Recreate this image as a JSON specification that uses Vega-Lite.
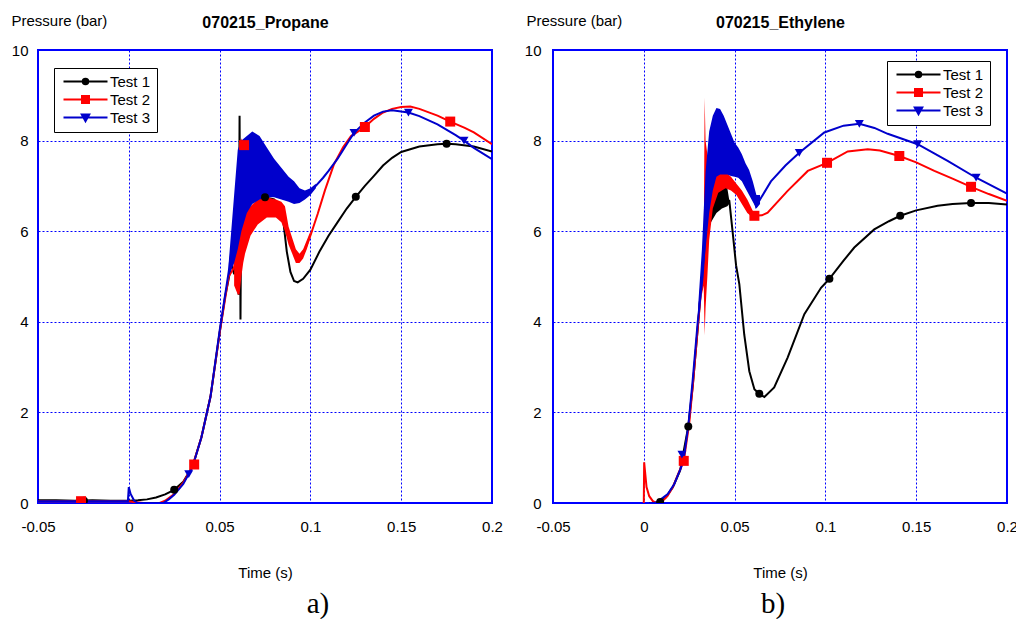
{
  "$schema": "https://vega.github.io/schema/vega-lite/v6.json",
  "background": "white",
  "padding": {"left": 10, "top": 12, "right": 5, "bottom": 5},
  "config": {
    "font": "Liberation Sans",
    "view": {"stroke": "#0000ff", "strokeWidth": 2},
    "axis": {
      "labelFont": "Liberation Sans", "labelFontSize": 15, "labelColor": "#000000",
      "titleFont": "Liberation Sans", "titleFontSize": 15, "titleFontWeight": "normal", "titleColor": "#000000",
      "ticks": false, "tickSize": 0, "domain": false, "labelFlush": false,
      "gridColor": "#0000ff", "gridDash": [2, 2], "gridWidth": 1, "gridOpacity": 1
    }
  },
  "datasets": {
    "lines_a": [
      {"s":"Test 1","t":-0.05,"p":0.06},{"s":"Test 1","t":-0.04,"p":0.06},{"s":"Test 1","t":-0.03,"p":0.05},{"s":"Test 1","t":-0.02,"p":0.06},{"s":"Test 1","t":-0.01,"p":0.05},{"s":"Test 1","t":0,"p":0.05},{"s":"Test 1","t":0.005,"p":0.06},{"s":"Test 1","t":0.01,"p":0.08},{"s":"Test 1","t":0.015,"p":0.12},{"s":"Test 1","t":0.02,"p":0.19},{"s":"Test 1","t":0.025,"p":0.29},{"s":"Test 1","t":0.03,"p":0.47},{"s":"Test 1","t":0.035,"p":0.8},{"s":"Test 1","t":0.04,"p":1.45},{"s":"Test 1","t":0.045,"p":2.35},{"s":"Test 1","t":0.05,"p":3.75},{"s":"Test 1","t":0.053,"p":4.55},{"s":"Test 1","t":0.055,"p":4.95},{"s":"Test 1","t":0.0565,"p":5.3},{"s":"Test 1","t":0.058,"p":5.05},{"s":"Test 1","t":0.0595,"p":5.6},{"s":"Test 1","t":0.0605,"p":4.6},{"s":"Test 1","t":0.061,"p":8.55},{"s":"Test 1","t":0.0615,"p":4.05},{"s":"Test 1","t":0.062,"p":7.3},{"s":"Test 1","t":0.0625,"p":5.4},{"s":"Test 1","t":0.063,"p":6.1},{"s":"Test 1","t":0.066,"p":6.4},{"s":"Test 1","t":0.07,"p":6.6},{"s":"Test 1","t":0.075,"p":6.75},{"s":"Test 1","t":0.08,"p":6.7},{"s":"Test 1","t":0.083,"p":6.55},{"s":"Test 1","t":0.085,"p":6.25},{"s":"Test 1","t":0.087,"p":5.55},{"s":"Test 1","t":0.089,"p":5.1},{"s":"Test 1","t":0.091,"p":4.9},{"s":"Test 1","t":0.093,"p":4.87},{"s":"Test 1","t":0.096,"p":4.95},{"s":"Test 1","t":0.1,"p":5.15},{"s":"Test 1","t":0.105,"p":5.55},{"s":"Test 1","t":0.11,"p":5.9},{"s":"Test 1","t":0.115,"p":6.2},{"s":"Test 1","t":0.12,"p":6.5},{"s":"Test 1","t":0.125,"p":6.76},{"s":"Test 1","t":0.13,"p":7.0},{"s":"Test 1","t":0.135,"p":7.22},{"s":"Test 1","t":0.14,"p":7.45},{"s":"Test 1","t":0.145,"p":7.62},{"s":"Test 1","t":0.15,"p":7.75},{"s":"Test 1","t":0.16,"p":7.87},{"s":"Test 1","t":0.17,"p":7.92},{"s":"Test 1","t":0.175,"p":7.93},{"s":"Test 1","t":0.18,"p":7.92},{"s":"Test 1","t":0.19,"p":7.87},{"s":"Test 1","t":0.2,"p":7.76},
      {"s":"Test 2","t":-0.05,"p":0.04},{"s":"Test 2","t":-0.04,"p":0.04},{"s":"Test 2","t":-0.03,"p":0.04},{"s":"Test 2","t":-0.02,"p":0.04},{"s":"Test 2","t":-0.01,"p":0.04},{"s":"Test 2","t":0,"p":0.04},{"s":"Test 2","t":0.003,"p":0.02},{"s":"Test 2","t":0.008,"p":0.0},{"s":"Test 2","t":0.017,"p":0.0},{"s":"Test 2","t":0.02,"p":0.05},{"s":"Test 2","t":0.025,"p":0.2},{"s":"Test 2","t":0.03,"p":0.45},{"s":"Test 2","t":0.035,"p":0.8},{"s":"Test 2","t":0.04,"p":1.45},{"s":"Test 2","t":0.045,"p":2.35},{"s":"Test 2","t":0.05,"p":3.75},{"s":"Test 2","t":0.055,"p":5.0},{"s":"Test 2","t":0.058,"p":5.2},{"s":"Test 2","t":0.06,"p":5.8},{"s":"Test 2","t":0.062,"p":6.4},{"s":"Test 2","t":0.064,"p":6.0},{"s":"Test 2","t":0.067,"p":6.2},{"s":"Test 2","t":0.071,"p":6.4},{"s":"Test 2","t":0.076,"p":6.5},{"s":"Test 2","t":0.081,"p":6.5},{"s":"Test 2","t":0.084,"p":6.42},{"s":"Test 2","t":0.086,"p":6.28},{"s":"Test 2","t":0.088,"p":5.9},{"s":"Test 2","t":0.09,"p":5.65},{"s":"Test 2","t":0.0935,"p":5.4},{"s":"Test 2","t":0.096,"p":5.5},{"s":"Test 2","t":0.1,"p":5.9},{"s":"Test 2","t":0.104,"p":6.38},{"s":"Test 2","t":0.108,"p":6.9},{"s":"Test 2","t":0.113,"p":7.48},{"s":"Test 2","t":0.118,"p":7.85},{"s":"Test 2","t":0.1224,"p":8.1},{"s":"Test 2","t":0.13,"p":8.3},{"s":"Test 2","t":0.135,"p":8.48},{"s":"Test 2","t":0.14,"p":8.62},{"s":"Test 2","t":0.145,"p":8.7},{"s":"Test 2","t":0.15,"p":8.74},{"s":"Test 2","t":0.155,"p":8.75},{"s":"Test 2","t":0.16,"p":8.7},{"s":"Test 2","t":0.17,"p":8.55},{"s":"Test 2","t":0.177,"p":8.42},{"s":"Test 2","t":0.185,"p":8.28},{"s":"Test 2","t":0.19,"p":8.18},{"s":"Test 2","t":0.2,"p":7.92},
      {"s":"Test 3","t":-0.05,"p":0.04},{"s":"Test 3","t":-0.03,"p":0.04},{"s":"Test 3","t":-0.01,"p":0.04},{"s":"Test 3","t":-0.0005,"p":0.04},{"s":"Test 3","t":0,"p":0.35},{"s":"Test 3","t":0.001,"p":0.2},{"s":"Test 3","t":0.003,"p":0.05},{"s":"Test 3","t":0.005,"p":0.0},{"s":"Test 3","t":0.019,"p":0.0},{"s":"Test 3","t":0.022,"p":0.08},{"s":"Test 3","t":0.025,"p":0.18},{"s":"Test 3","t":0.03,"p":0.42},{"s":"Test 3","t":0.033,"p":0.64},{"s":"Test 3","t":0.035,"p":0.78},{"s":"Test 3","t":0.04,"p":1.45},{"s":"Test 3","t":0.045,"p":2.35},{"s":"Test 3","t":0.05,"p":3.8},{"s":"Test 3","t":0.055,"p":5.1},{"s":"Test 3","t":0.058,"p":6.0},{"s":"Test 3","t":0.06,"p":6.7},{"s":"Test 3","t":0.062,"p":7.0},{"s":"Test 3","t":0.065,"p":7.25},{"s":"Test 3","t":0.068,"p":7.4},{"s":"Test 3","t":0.072,"p":7.4},{"s":"Test 3","t":0.076,"p":7.3},{"s":"Test 3","t":0.08,"p":7.15},{"s":"Test 3","t":0.084,"p":7.05},{"s":"Test 3","t":0.088,"p":6.9},{"s":"Test 3","t":0.091,"p":6.85},{"s":"Test 3","t":0.094,"p":6.8},{"s":"Test 3","t":0.097,"p":6.8},{"s":"Test 3","t":0.1,"p":6.88},{"s":"Test 3","t":0.103,"p":7.0},{"s":"Test 3","t":0.107,"p":7.18},{"s":"Test 3","t":0.11,"p":7.33},{"s":"Test 3","t":0.115,"p":7.6},{"s":"Test 3","t":0.12,"p":7.92},{"s":"Test 3","t":0.124,"p":8.17},{"s":"Test 3","t":0.13,"p":8.4},{"s":"Test 3","t":0.135,"p":8.55},{"s":"Test 3","t":0.14,"p":8.64},{"s":"Test 3","t":0.145,"p":8.67},{"s":"Test 3","t":0.15,"p":8.64},{"s":"Test 3","t":0.154,"p":8.62},{"s":"Test 3","t":0.16,"p":8.54},{"s":"Test 3","t":0.17,"p":8.36},{"s":"Test 3","t":0.18,"p":8.12},{"s":"Test 3","t":0.1846,"p":8.0},{"s":"Test 3","t":0.19,"p":7.84},{"s":"Test 3","t":0.2,"p":7.59}
    ],
    "bands_a": [
      {"s":"Test 2","t":0.058,"lo":4.8,"hi":5.6},{"s":"Test 2","t":0.06,"lo":4.6,"hi":7.0},{"s":"Test 2","t":0.061,"lo":4.6,"hi":7.9},{"s":"Test 2","t":0.062,"lo":5.0,"hi":8.05},{"s":"Test 2","t":0.063,"lo":5.3,"hi":7.9},{"s":"Test 2","t":0.064,"lo":5.5,"hi":6.4},{"s":"Test 2","t":0.067,"lo":5.9,"hi":6.55},{"s":"Test 2","t":0.071,"lo":6.15,"hi":6.7},{"s":"Test 2","t":0.076,"lo":6.3,"hi":6.75},{"s":"Test 2","t":0.081,"lo":6.3,"hi":6.7},{"s":"Test 2","t":0.084,"lo":6.2,"hi":6.65},{"s":"Test 2","t":0.086,"lo":6.0,"hi":6.55},{"s":"Test 2","t":0.088,"lo":5.7,"hi":6.1},{"s":"Test 2","t":0.09,"lo":5.5,"hi":5.85},{"s":"Test 2","t":0.092,"lo":5.3,"hi":5.6},{"s":"Test 2","t":0.094,"lo":5.3,"hi":5.5},{"s":"Test 2","t":0.096,"lo":5.4,"hi":5.6},{"s":"Test 2","t":0.098,"lo":5.6,"hi":5.8},{"s":"Test 2","t":0.1,"lo":5.85,"hi":6.0},
      {"s":"Test 3","t":0.055,"lo":5.0,"hi":5.3},{"s":"Test 3","t":0.058,"lo":5.3,"hi":6.8},{"s":"Test 3","t":0.06,"lo":5.6,"hi":7.8},{"s":"Test 3","t":0.062,"lo":6.0,"hi":8.0},{"s":"Test 3","t":0.065,"lo":6.4,"hi":8.1},{"s":"Test 3","t":0.068,"lo":6.6,"hi":8.2},{"s":"Test 3","t":0.072,"lo":6.7,"hi":8.1},{"s":"Test 3","t":0.076,"lo":6.75,"hi":7.85},{"s":"Test 3","t":0.08,"lo":6.75,"hi":7.6},{"s":"Test 3","t":0.084,"lo":6.7,"hi":7.4},{"s":"Test 3","t":0.088,"lo":6.65,"hi":7.2},{"s":"Test 3","t":0.091,"lo":6.6,"hi":7.1},{"s":"Test 3","t":0.094,"lo":6.62,"hi":6.95},{"s":"Test 3","t":0.097,"lo":6.7,"hi":6.9},{"s":"Test 3","t":0.1,"lo":6.8,"hi":6.95},{"s":"Test 3","t":0.103,"lo":6.95,"hi":7.05}
    ],
    "marks_a": [
      {"s":"Test 1","t":-0.0247,"p":0.05},{"s":"Test 1","t":0.025,"p":0.29},{"s":"Test 1","t":0.075,"p":6.75},{"s":"Test 1","t":0.125,"p":6.76},{"s":"Test 1","t":0.175,"p":7.93},
      {"s":"Test 2","t":-0.0263,"p":0.04},{"s":"Test 2","t":0.036,"p":0.85},{"s":"Test 2","t":0.0635,"p":7.9},{"s":"Test 2","t":0.13,"p":8.3},{"s":"Test 2","t":0.177,"p":8.42},
      {"s":"Test 3","t":0.033,"p":0.64},{"s":"Test 3","t":0.124,"p":8.17},{"s":"Test 3","t":0.154,"p":8.62},{"s":"Test 3","t":0.1846,"p":8.0}
    ],
    "lines_b": [
      {"s":"Test 1","t":0.003,"p":0.0},{"s":"Test 1","t":0.006,"p":0.0},{"s":"Test 1","t":0.009,"p":0.03},{"s":"Test 1","t":0.012,"p":0.12},{"s":"Test 1","t":0.016,"p":0.35},{"s":"Test 1","t":0.02,"p":0.72},{"s":"Test 1","t":0.0245,"p":1.69},{"s":"Test 1","t":0.027,"p":2.6},{"s":"Test 1","t":0.03,"p":4.0},{"s":"Test 1","t":0.032,"p":5.0},{"s":"Test 1","t":0.034,"p":5.8},{"s":"Test 1","t":0.036,"p":6.3},{"s":"Test 1","t":0.038,"p":6.5},{"s":"Test 1","t":0.04,"p":6.7},{"s":"Test 1","t":0.042,"p":6.8},{"s":"Test 1","t":0.044,"p":6.75},{"s":"Test 1","t":0.046,"p":6.7},{"s":"Test 1","t":0.0471,"p":6.67},{"s":"Test 1","t":0.049,"p":5.95},{"s":"Test 1","t":0.0508,"p":5.25},{"s":"Test 1","t":0.0526,"p":4.83},{"s":"Test 1","t":0.0553,"p":3.72},{"s":"Test 1","t":0.0581,"p":2.91},{"s":"Test 1","t":0.0609,"p":2.51},{"s":"Test 1","t":0.0636,"p":2.41},{"s":"Test 1","t":0.0664,"p":2.34},{"s":"Test 1","t":0.0718,"p":2.55},{"s":"Test 1","t":0.0792,"p":3.21},{"s":"Test 1","t":0.0884,"p":4.17},{"s":"Test 1","t":0.0976,"p":4.75},{"s":"Test 1","t":0.1022,"p":4.95},{"s":"Test 1","t":0.11,"p":5.35},{"s":"Test 1","t":0.1159,"p":5.64},{"s":"Test 1","t":0.1269,"p":6.04},{"s":"Test 1","t":0.135,"p":6.22},{"s":"Test 1","t":0.1412,"p":6.34},{"s":"Test 1","t":0.15,"p":6.46},{"s":"Test 1","t":0.1618,"p":6.56},{"s":"Test 1","t":0.17,"p":6.6},{"s":"Test 1","t":0.1802,"p":6.62},{"s":"Test 1","t":0.19,"p":6.62},{"s":"Test 1","t":0.2,"p":6.59},
      {"s":"Test 2","t":0,"p":0.0},{"s":"Test 2","t":0.0002,"p":0.9},{"s":"Test 2","t":0.0015,"p":0.35},{"s":"Test 2","t":0.003,"p":0.15},{"s":"Test 2","t":0.005,"p":0.04},{"s":"Test 2","t":0.007,"p":0.0},{"s":"Test 2","t":0.01,"p":0.03},{"s":"Test 2","t":0.013,"p":0.15},{"s":"Test 2","t":0.016,"p":0.35},{"s":"Test 2","t":0.019,"p":0.65},{"s":"Test 2","t":0.022,"p":0.93},{"s":"Test 2","t":0.025,"p":1.75},{"s":"Test 2","t":0.027,"p":2.6},{"s":"Test 2","t":0.03,"p":4.0},{"s":"Test 2","t":0.032,"p":4.9},{"s":"Test 2","t":0.034,"p":6.0},{"s":"Test 2","t":0.036,"p":6.6},{"s":"Test 2","t":0.04,"p":7.05},{"s":"Test 2","t":0.043,"p":7.1},{"s":"Test 2","t":0.046,"p":7.1},{"s":"Test 2","t":0.05,"p":6.98},{"s":"Test 2","t":0.053,"p":6.82},{"s":"Test 2","t":0.056,"p":6.62},{"s":"Test 2","t":0.0609,"p":6.34},{"s":"Test 2","t":0.065,"p":6.35},{"s":"Test 2","t":0.0682,"p":6.41},{"s":"Test 2","t":0.0792,"p":6.89},{"s":"Test 2","t":0.0903,"p":7.33},{"s":"Test 2","t":0.1009,"p":7.51},{"s":"Test 2","t":0.1123,"p":7.76},{"s":"Test 2","t":0.1233,"p":7.81},{"s":"Test 2","t":0.13,"p":7.78},{"s":"Test 2","t":0.1407,"p":7.66},{"s":"Test 2","t":0.15,"p":7.52},{"s":"Test 2","t":0.16,"p":7.33},{"s":"Test 2","t":0.17,"p":7.16},{"s":"Test 2","t":0.1802,"p":6.98},{"s":"Test 2","t":0.19,"p":6.82},{"s":"Test 2","t":0.2,"p":6.67},
      {"s":"Test 3","t":0.003,"p":0.0},{"s":"Test 3","t":0.006,"p":0.0},{"s":"Test 3","t":0.0077,"p":0.03},{"s":"Test 3","t":0.0132,"p":0.2},{"s":"Test 3","t":0.0168,"p":0.42},{"s":"Test 3","t":0.0205,"p":0.78},{"s":"Test 3","t":0.022,"p":0.98},{"s":"Test 3","t":0.0245,"p":1.7},{"s":"Test 3","t":0.0269,"p":2.7},{"s":"Test 3","t":0.0297,"p":4.0},{"s":"Test 3","t":0.0324,"p":5.0},{"s":"Test 3","t":0.034,"p":6.0},{"s":"Test 3","t":0.036,"p":7.2},{"s":"Test 3","t":0.038,"p":7.7},{"s":"Test 3","t":0.04,"p":7.95},{"s":"Test 3","t":0.042,"p":7.95},{"s":"Test 3","t":0.044,"p":7.9},{"s":"Test 3","t":0.046,"p":7.8},{"s":"Test 3","t":0.048,"p":7.65},{"s":"Test 3","t":0.05,"p":7.55},{"s":"Test 3","t":0.052,"p":7.5},{"s":"Test 3","t":0.054,"p":7.4},{"s":"Test 3","t":0.056,"p":7.22},{"s":"Test 3","t":0.058,"p":7.05},{"s":"Test 3","t":0.06,"p":6.85},{"s":"Test 3","t":0.0618,"p":6.55},{"s":"Test 3","t":0.064,"p":6.7},{"s":"Test 3","t":0.07,"p":7.1},{"s":"Test 3","t":0.078,"p":7.45},{"s":"Test 3","t":0.0856,"p":7.73},{"s":"Test 3","t":0.0994,"p":8.18},{"s":"Test 3","t":0.11,"p":8.33},{"s":"Test 3","t":0.1187,"p":8.37},{"s":"Test 3","t":0.127,"p":8.28},{"s":"Test 3","t":0.1343,"p":8.15},{"s":"Test 3","t":0.1508,"p":7.92},{"s":"Test 3","t":0.1673,"p":7.55},{"s":"Test 3","t":0.183,"p":7.18},{"s":"Test 3","t":0.2,"p":6.83}
    ],
    "bands_b": [
      {"s":"Test 1","t":0.037,"lo":6.2,"hi":6.6},{"s":"Test 1","t":0.04,"lo":6.4,"hi":6.95},{"s":"Test 1","t":0.043,"lo":6.5,"hi":7.0},{"s":"Test 1","t":0.046,"lo":6.55,"hi":6.95},{"s":"Test 1","t":0.047,"lo":6.6,"hi":6.7},
      {"s":"Test 2","t":0.032,"lo":4.6,"hi":5.0},{"s":"Test 2","t":0.033,"lo":4.8,"hi":5.6},{"s":"Test 2","t":0.0335,"lo":3.7,"hi":8.95},{"s":"Test 2","t":0.034,"lo":4.3,"hi":8.0},{"s":"Test 2","t":0.035,"lo":5.0,"hi":7.7},{"s":"Test 2","t":0.036,"lo":5.8,"hi":7.45},{"s":"Test 2","t":0.038,"lo":6.5,"hi":7.3},{"s":"Test 2","t":0.041,"lo":6.85,"hi":7.3},{"s":"Test 2","t":0.045,"lo":6.95,"hi":7.3},{"s":"Test 2","t":0.048,"lo":6.9,"hi":7.2},{"s":"Test 2","t":0.051,"lo":6.8,"hi":7.05},{"s":"Test 2","t":0.054,"lo":6.6,"hi":6.9},{"s":"Test 2","t":0.057,"lo":6.4,"hi":6.7},{"s":"Test 2","t":0.06,"lo":6.3,"hi":6.45},
      {"s":"Test 3","t":0.03,"lo":4.0,"hi":4.4},{"s":"Test 3","t":0.032,"lo":4.8,"hi":5.6},{"s":"Test 3","t":0.034,"lo":5.6,"hi":7.3},{"s":"Test 3","t":0.036,"lo":6.4,"hi":8.2},{"s":"Test 3","t":0.038,"lo":6.9,"hi":8.55},{"s":"Test 3","t":0.04,"lo":7.2,"hi":8.72},{"s":"Test 3","t":0.042,"lo":7.25,"hi":8.7},{"s":"Test 3","t":0.044,"lo":7.25,"hi":8.55},{"s":"Test 3","t":0.046,"lo":7.25,"hi":8.35},{"s":"Test 3","t":0.048,"lo":7.22,"hi":8.15},{"s":"Test 3","t":0.05,"lo":7.2,"hi":7.95},{"s":"Test 3","t":0.052,"lo":7.18,"hi":7.85},{"s":"Test 3","t":0.054,"lo":7.1,"hi":7.7},{"s":"Test 3","t":0.056,"lo":6.95,"hi":7.5},{"s":"Test 3","t":0.058,"lo":6.8,"hi":7.35},{"s":"Test 3","t":0.06,"lo":6.65,"hi":7.1},{"s":"Test 3","t":0.062,"lo":6.5,"hi":6.8},{"s":"Test 3","t":0.064,"lo":6.6,"hi":6.8}
    ],
    "marks_b": [
      {"s":"Test 1","t":0.009,"p":0.02},{"s":"Test 1","t":0.0245,"p":1.69},{"s":"Test 1","t":0.0636,"p":2.41},{"s":"Test 1","t":0.1022,"p":4.95},{"s":"Test 1","t":0.1412,"p":6.34},{"s":"Test 1","t":0.1802,"p":6.62},
      {"s":"Test 2","t":0.022,"p":0.93},{"s":"Test 2","t":0.0609,"p":6.34},{"s":"Test 2","t":0.1009,"p":7.51},{"s":"Test 2","t":0.1407,"p":7.66},{"s":"Test 2","t":0.1802,"p":6.98},
      {"s":"Test 3","t":0.021,"p":1.07},{"s":"Test 3","t":0.0856,"p":7.73},{"s":"Test 3","t":0.1187,"p":8.37},{"s":"Test 3","t":0.1508,"p":7.92},{"s":"Test 3","t":0.183,"p":7.18}
    ]
  },
  "bounds": "flush",
  "spacing": 61,
  "resolve": {"scale": {"color": "independent", "shape": "independent", "stroke": "independent", "fill": "independent"}},
  "hconcat": [
    {
      "width": 454, "height": 453,
      "title": {"text": "a)", "orient": "bottom", "anchor": "middle", "frame": "group", "font": "Liberation Serif", "fontSize": 29, "fontWeight": "normal", "color": "#000000", "dx": 53, "offset": 10},
      "resolve": {"axis": {"x": "independent"}},
      "layer": [
        {
          "data": {"name": "marks_a"},
          "transform": [{"filter": "false"}],
          "mark": {"type": "point", "filled": true, "opacity": 1, "strokeWidth": 2},
          "encoding": {
            "x": {"field": "t", "type": "quantitative", "scale": {"domain": [-0.05, 0.2], "nice": false, "zero": false},
                  "axis": {"orient": "top", "labels": false, "grid": false, "title": "070215_Propane", "titleFontWeight": "bold", "titleFontSize": 16, "titleX": 227, "titleY": -23, "titleBaseline": "alphabetic", "titleAlign": "center"}},
            "y": {"field": "p", "type": "quantitative", "title": "Pressure (bar)", "scale": {"domain": [0, 10], "nice": false, "zero": false}},
            "color": {"field": "s", "type": "nominal", "scale": {"domain": ["Test 1", "Test 2", "Test 3"], "range": ["#000000", "#ff0000", "#0000cc"]},
              "legend": {"title": null, "orient": "none", "legendX": 16, "legendY": 18, "padding": 6, "strokeColor": "#000000", "fillColor": "#ffffff",
                "symbolSize": 100, "symbolStrokeWidth": 2, "symbolOffset": 18, "labelOffset": 17, "rowPadding": 2, "labelFont": "Liberation Sans", "labelFontSize": 15, "labelLimit": 0}},
            "stroke": {"field": "s", "type": "nominal", "scale": {"domain": ["Test 1", "Test 2", "Test 3"], "range": ["#000000", "#ff0000", "#0000cc"]}},
            "shape": {"field": "s", "type": "nominal", "scale": {"domain": ["Test 1", "Test 2", "Test 3"], "range": ["M-4.4,0H4.4M0.55,0A0.55,0.55,0,1,1,-0.55,0A0.55,0.55,0,1,1,0.55,0Z", "M-4.4,0H4.4M-0.7,-0.7H0.7V0.7H-0.7Z", "M-4.4,0H4.4M-0.75,-0.6H0.75L0,0.75Z"]}}
          }
        },
        {
          "data": {"name": "lines_a"},
          "transform": [{"filter": "datum.s === 'Test 1'"}],
          "mark": {"type": "line", "strokeWidth": 2, "clip": true},
          "encoding": {
            "x": {"field": "t", "type": "quantitative",
                  "axis": {"orient": "bottom", "values": [-0.05, 0, 0.05, 0.1, 0.15, 0.2], "labelExpr": "'' + datum.value", "grid": true, "labelPadding": 16, "title": "Time (s)", "titleX": 227, "titleY": 74, "titleBaseline": "alphabetic", "titleAlign": "center"}},
            "y": {"field": "p", "type": "quantitative", "title": "Pressure (bar)",
                  "axis": {"values": [0, 2, 4, 6, 8, 10], "grid": true, "labelPadding": 10, "titleAngle": 0, "titleAlign": "left", "titleBaseline": "alphabetic", "titleX": -27, "titleY": -25}},
            "stroke": {"field": "s", "type": "nominal"}
          }
        },
        {
          "data": {"name": "bands_a"},
          "transform": [{"filter": "datum.s === 'Test 2'"}],
          "mark": {"type": "area", "opacity": 1, "clip": true},
          "encoding": {
            "x": {"field": "t", "type": "quantitative", "axis": null},
            "y": {"field": "lo", "type": "quantitative", "title": "Pressure (bar)"},
            "y2": {"field": "hi"},
            "fill": {"field": "s", "type": "nominal", "scale": {"domain": ["Test 1", "Test 2", "Test 3"], "range": ["#000000", "#ff0000", "#0000cc"]}}
          }
        },
        {
          "data": {"name": "lines_a"},
          "transform": [{"filter": "datum.s === 'Test 2'"}],
          "mark": {"type": "line", "strokeWidth": 2, "clip": true},
          "encoding": {
            "x": {"field": "t", "type": "quantitative", "axis": null},
            "y": {"field": "p", "type": "quantitative", "title": "Pressure (bar)"},
            "stroke": {"field": "s", "type": "nominal"}
          }
        },
        {
          "data": {"name": "bands_a"},
          "transform": [{"filter": "datum.s === 'Test 3'"}],
          "mark": {"type": "area", "opacity": 1, "clip": true},
          "encoding": {
            "x": {"field": "t", "type": "quantitative", "axis": null},
            "y": {"field": "lo", "type": "quantitative", "title": "Pressure (bar)"},
            "y2": {"field": "hi"},
            "fill": {"field": "s", "type": "nominal"}
          }
        },
        {
          "data": {"name": "lines_a"},
          "transform": [{"filter": "datum.s === 'Test 3'"}],
          "mark": {"type": "line", "strokeWidth": 2, "clip": true},
          "encoding": {
            "x": {"field": "t", "type": "quantitative", "axis": null},
            "y": {"field": "p", "type": "quantitative", "title": "Pressure (bar)"},
            "stroke": {"field": "s", "type": "nominal"}
          }
        },
        {
          "data": {"name": "marks_a"},
          "transform": [{"filter": "datum.s === 'Test 1'"}],
          "mark": {"type": "point", "shape": "circle", "size": 64, "filled": true, "opacity": 1, "color": "#000000", "clip": true},
          "encoding": {
            "x": {"field": "t", "type": "quantitative", "axis": null},
            "y": {"field": "p", "type": "quantitative", "title": "Pressure (bar)"}
          }
        },
        {
          "data": {"name": "marks_a"},
          "transform": [{"filter": "datum.s === 'Test 2'"}],
          "mark": {"type": "point", "shape": "square", "size": 100, "filled": true, "opacity": 1, "color": "#ff0000", "clip": true},
          "encoding": {
            "x": {"field": "t", "type": "quantitative", "axis": null},
            "y": {"field": "p", "type": "quantitative", "title": "Pressure (bar)"}
          }
        },
        {
          "data": {"name": "marks_a"},
          "transform": [{"filter": "datum.s === 'Test 3'"}],
          "mark": {"type": "point", "shape": "triangle-down", "size": 80, "filled": true, "opacity": 1, "color": "#0000cc", "clip": true},
          "encoding": {
            "x": {"field": "t", "type": "quantitative", "axis": null},
            "y": {"field": "p", "type": "quantitative", "title": "Pressure (bar)"}
          }
        }
      ]
    },
    {
      "width": 454, "height": 453,
      "title": {"text": "b)", "orient": "bottom", "anchor": "middle", "frame": "group", "font": "Liberation Serif", "fontSize": 29, "fontWeight": "normal", "color": "#000000", "dx": -7, "offset": 10},
      "resolve": {"axis": {"x": "independent"}},
      "layer": [
        {
          "data": {"name": "marks_b"},
          "transform": [{"filter": "false"}],
          "mark": {"type": "point", "filled": true, "opacity": 1, "strokeWidth": 2},
          "encoding": {
            "x": {"field": "t", "type": "quantitative", "scale": {"domain": [-0.05, 0.2], "nice": false, "zero": false},
                  "axis": {"orient": "top", "labels": false, "grid": false, "title": "070215_Ethylene", "titleFontWeight": "bold", "titleFontSize": 16, "titleX": 227, "titleY": -23, "titleBaseline": "alphabetic", "titleAlign": "center"}},
            "y": {"field": "p", "type": "quantitative", "title": "Pressure (bar)", "scale": {"domain": [0, 10], "nice": false, "zero": false}},
            "color": {"field": "s", "type": "nominal", "scale": {"domain": ["Test 1", "Test 2", "Test 3"], "range": ["#000000", "#ff0000", "#0000cc"]},
              "legend": {"title": null, "orient": "none", "legendX": 334, "legendY": 11, "padding": 6, "strokeColor": "#000000", "fillColor": "#ffffff",
                "symbolSize": 100, "symbolStrokeWidth": 2, "symbolOffset": 18, "labelOffset": 17, "rowPadding": 2, "labelFont": "Liberation Sans", "labelFontSize": 15, "labelLimit": 0}},
            "stroke": {"field": "s", "type": "nominal", "scale": {"domain": ["Test 1", "Test 2", "Test 3"], "range": ["#000000", "#ff0000", "#0000cc"]}},
            "shape": {"field": "s", "type": "nominal", "scale": {"domain": ["Test 1", "Test 2", "Test 3"], "range": ["M-4.4,0H4.4M0.55,0A0.55,0.55,0,1,1,-0.55,0A0.55,0.55,0,1,1,0.55,0Z", "M-4.4,0H4.4M-0.7,-0.7H0.7V0.7H-0.7Z", "M-4.4,0H4.4M-0.75,-0.6H0.75L0,0.75Z"]}}
          }
        },
        {
          "data": {"name": "bands_b"},
          "transform": [{"filter": "datum.s === 'Test 1'"}],
          "mark": {"type": "area", "opacity": 1, "clip": true},
          "encoding": {
            "x": {"field": "t", "type": "quantitative", "axis": null},
            "y": {"field": "lo", "type": "quantitative", "title": "Pressure (bar)"},
            "y2": {"field": "hi"},
            "fill": {"field": "s", "type": "nominal", "scale": {"domain": ["Test 1", "Test 2", "Test 3"], "range": ["#000000", "#ff0000", "#0000cc"]}}
          }
        },
        {
          "data": {"name": "lines_b"},
          "transform": [{"filter": "datum.s === 'Test 1'"}],
          "mark": {"type": "line", "strokeWidth": 2, "clip": true},
          "encoding": {
            "x": {"field": "t", "type": "quantitative",
                  "axis": {"orient": "bottom", "values": [-0.05, 0, 0.05, 0.1, 0.15, 0.2], "labelExpr": "'' + datum.value", "grid": true, "labelPadding": 16, "title": "Time (s)", "titleX": 227, "titleY": 74, "titleBaseline": "alphabetic", "titleAlign": "center"}},
            "y": {"field": "p", "type": "quantitative", "title": "Pressure (bar)",
                  "axis": {"values": [0, 2, 4, 6, 8, 10], "grid": true, "labelPadding": 12, "titleAngle": 0, "titleAlign": "left", "titleBaseline": "alphabetic", "titleX": -27, "titleY": -25}},
            "stroke": {"field": "s", "type": "nominal"}
          }
        },
        {
          "data": {"name": "bands_b"},
          "transform": [{"filter": "datum.s === 'Test 2'"}],
          "mark": {"type": "area", "opacity": 1, "clip": true},
          "encoding": {
            "x": {"field": "t", "type": "quantitative", "axis": null},
            "y": {"field": "lo", "type": "quantitative", "title": "Pressure (bar)"},
            "y2": {"field": "hi"},
            "fill": {"field": "s", "type": "nominal"}
          }
        },
        {
          "data": {"name": "lines_b"},
          "transform": [{"filter": "datum.s === 'Test 2'"}],
          "mark": {"type": "line", "strokeWidth": 2, "clip": true},
          "encoding": {
            "x": {"field": "t", "type": "quantitative", "axis": null},
            "y": {"field": "p", "type": "quantitative", "title": "Pressure (bar)"},
            "stroke": {"field": "s", "type": "nominal"}
          }
        },
        {
          "data": {"name": "bands_b"},
          "transform": [{"filter": "datum.s === 'Test 3'"}],
          "mark": {"type": "area", "opacity": 1, "clip": true},
          "encoding": {
            "x": {"field": "t", "type": "quantitative", "axis": null},
            "y": {"field": "lo", "type": "quantitative", "title": "Pressure (bar)"},
            "y2": {"field": "hi"},
            "fill": {"field": "s", "type": "nominal"}
          }
        },
        {
          "data": {"name": "lines_b"},
          "transform": [{"filter": "datum.s === 'Test 3'"}],
          "mark": {"type": "line", "strokeWidth": 2, "clip": true},
          "encoding": {
            "x": {"field": "t", "type": "quantitative", "axis": null},
            "y": {"field": "p", "type": "quantitative", "title": "Pressure (bar)"},
            "stroke": {"field": "s", "type": "nominal"}
          }
        },
        {
          "data": {"name": "marks_b"},
          "transform": [{"filter": "datum.s === 'Test 1'"}],
          "mark": {"type": "point", "shape": "circle", "size": 64, "filled": true, "opacity": 1, "color": "#000000", "clip": true},
          "encoding": {
            "x": {"field": "t", "type": "quantitative", "axis": null},
            "y": {"field": "p", "type": "quantitative", "title": "Pressure (bar)"}
          }
        },
        {
          "data": {"name": "marks_b"},
          "transform": [{"filter": "datum.s === 'Test 2'"}],
          "mark": {"type": "point", "shape": "square", "size": 100, "filled": true, "opacity": 1, "color": "#ff0000", "clip": true},
          "encoding": {
            "x": {"field": "t", "type": "quantitative", "axis": null},
            "y": {"field": "p", "type": "quantitative", "title": "Pressure (bar)"}
          }
        },
        {
          "data": {"name": "marks_b"},
          "transform": [{"filter": "datum.s === 'Test 3'"}],
          "mark": {"type": "point", "shape": "triangle-down", "size": 80, "filled": true, "opacity": 1, "color": "#0000cc", "clip": true},
          "encoding": {
            "x": {"field": "t", "type": "quantitative", "axis": null},
            "y": {"field": "p", "type": "quantitative", "title": "Pressure (bar)"}
          }
        }
      ]
    }
  ]
}
